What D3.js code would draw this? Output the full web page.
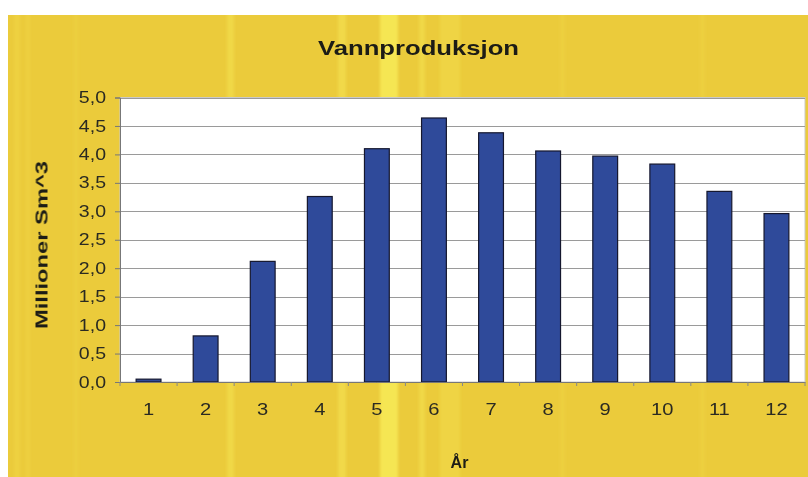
<!DOCTYPE html>
<html>
<head>
<meta charset="utf-8">
<script src="https://cdn.jsdelivr.net/npm/d3@7"></script>
<style>
  html, body { margin: 0; padding: 0; background: #fff; }
  svg { display: block; }
  text { font-family: "Liberation Sans", Arial, sans-serif; }
</style>
</head>
<body>
<svg id="chart" width="808" height="477"></svg>
<script>
// Annual water production (million Sm^3) per year
const years = [1, 2, 3, 4, 5, 6, 7, 8, 9, 10, 11, 12];
const production = [0.05, 0.81, 2.12, 3.26, 4.10, 4.64, 4.38, 4.06, 3.97, 3.83, 3.35, 2.96];
const yTicks = [0, 0.5, 1, 1.5, 2, 2.5, 3, 3.5, 4, 4.5, 5];
const chartTitle = "Vannproduksjon";
const yTitle = "Millioner Sm^3";
const xTitle = "År";

const svg = d3.select("#chart");
const W = 808, H = 477;
const plot = { left: 120, right: 805, top: 97.5, bottom: 382 };

const defs = svg.append("defs");
defs.append("filter").attr("id", "soft").attr("x", "-50%").attr("width", "200%")
  .append("feGaussianBlur").attr("stdDeviation", "1.5 0");

// Panel background
svg.append("rect").attr("x", 8).attr("y", 15).attr("width", W - 8).attr("height", H - 15)
  .attr("fill", "#EBCB3B");

// Faint lighter vertical streaks across the panel
const streaks = [
  { x: 14, w: 6, o: 0.2 }, { x: 26, w: 4, o: 0.2 }, { x: 74, w: 4, o: 0.15 },
  { x: 227, w: 7, o: 0.4 }, { x: 338, w: 8, o: 0.45 }, { x: 380, w: 18, o: 0.8 },
  { x: 419, w: 6, o: 0.4 }, { x: 440, w: 20, o: 0.3 }, { x: 560, w: 5, o: 0.15 },
  { x: 700, w: 5, o: 0.15 }
];
svg.append("g").attr("filter", "url(#soft)").selectAll("rect").data(streaks).join("rect")
  .attr("x", d => d.x).attr("y", 15).attr("width", d => d.w).attr("height", H - 15)
  .attr("fill", "#F8EC5A").attr("opacity", d => d.o);

const x = d3.scaleBand().domain(years).range([plot.left, plot.right]).padding(0);
const y = d3.scaleLinear().domain([0, 5]).range([plot.bottom, plot.top]);

// Plot area
svg.append("rect").attr("x", plot.left).attr("y", plot.top)
  .attr("width", plot.right - plot.left).attr("height", plot.bottom - plot.top)
  .attr("fill", "#fff").attr("stroke", "#c9c9c9").attr("stroke-width", 1);

// Horizontal gridlines
svg.append("g").selectAll("line").data(yTicks.filter(t => t > 0)).join("line")
  .attr("x1", plot.left).attr("x2", plot.right)
  .attr("y1", d => Math.round(y(d)) + 0.5).attr("y2", d => Math.round(y(d)) + 0.5)
  .attr("stroke", "#9a9a9a").attr("stroke-width", 1);

// Stretch text horizontally by a factor, keeping its anchor
function stretch(sel, f) {
  sel.each(function () {
    const len = this.getComputedTextLength();
    d3.select(this).attr("textLength", len * f).attr("lengthAdjust", "spacingAndGlyphs");
  });
}

// Y axis
const yAxis = svg.append("g").attr("transform", `translate(${plot.left},0)`)
  .call(d3.axisLeft(y).tickValues(yTicks).tickSize(5).tickPadding(9)
    .tickFormat(d => d3.format(".1f")(d).replace(".", ",")));
yAxis.select(".domain").attr("stroke", "#777");
yAxis.selectAll(".tick line").attr("stroke", "#777");
yAxis.selectAll("text").attr("font-size", 16).attr("fill", "#2a2a22")
  .call(stretch, 1.22);

// Bars
const barW = x.bandwidth() / 2.3;
svg.append("g").selectAll("rect").data(years).join("rect")
  .attr("x", (d) => x(d) + (x.bandwidth() - barW) / 2)
  .attr("y", (d, i) => y(production[i]))
  .attr("width", barW)
  .attr("height", (d, i) => y(0) - y(production[i]))
  .attr("fill", "#2F4A9A").attr("stroke", "#15172e").attr("stroke-width", 1.2);

// X axis
const xAxis = svg.append("g").attr("transform", `translate(0,${plot.bottom})`)
  .call(d3.axisBottom(x).tickSize(0).tickPadding(21));
xAxis.select(".domain").attr("stroke", "#777");
xAxis.selectAll("text").attr("font-size", 16.5).attr("fill", "#2a2a22")
  .call(stretch, 1.22);
// category separator ticks
svg.append("g").selectAll("line").data(years.concat([null])).join("line")
  .attr("x1", (d, i) => plot.left + i * x.step()).attr("x2", (d, i) => plot.left + i * x.step())
  .attr("y1", plot.bottom).attr("y2", plot.bottom + 4)
  .attr("stroke", "#888");

// Title
svg.append("text").attr("x", 418.5).attr("y", 55).attr("text-anchor", "middle")
  .attr("font-size", 21).attr("font-weight", "bold").attr("fill", "#1c1c16")
  .attr("textLength", 201).attr("lengthAdjust", "spacingAndGlyphs")
  .text(chartTitle);

// Y axis title
svg.append("text").attr("transform", "translate(47.5,245) rotate(-90)")
  .attr("text-anchor", "middle")
  .attr("font-size", 16).attr("font-weight", "bold").attr("fill", "#1c1c16")
  .attr("textLength", 168).attr("lengthAdjust", "spacingAndGlyphs")
  .text(yTitle);

// X axis title
svg.append("text").attr("x", 459.5).attr("y", 468).attr("text-anchor", "middle")
  .attr("font-size", 16).attr("font-weight", "bold").attr("fill", "#1c1c16")
  .text(xTitle);
</script>
</body>
</html>
